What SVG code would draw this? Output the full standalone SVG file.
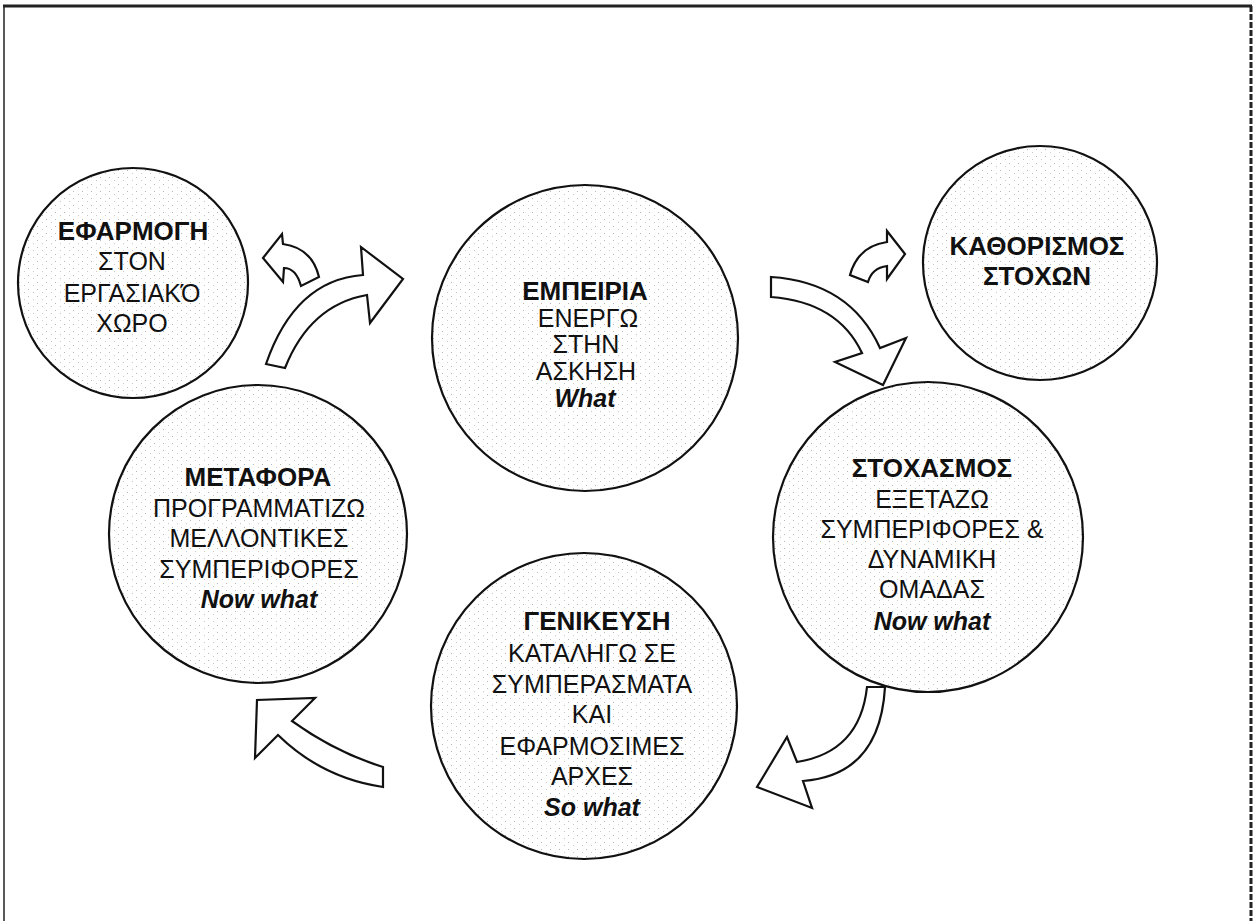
<svg xmlns="http://www.w3.org/2000/svg" width="1257" height="921" viewBox="0 0 1257 921">
<defs>
<pattern id="stip" width="9" height="7" patternUnits="userSpaceOnUse">
<rect width="9" height="7" fill="#fff"/>
<rect x="1" y="2" width="1" height="1" fill="#b5b5b5"/>
<rect x="6" y="5" width="1" height="1" fill="#c8c8c8"/>
</pattern>
<style>
.node{fill:url(#stip);stroke:#111;stroke-width:2.2}
.t{font-family:"Liberation Sans",Arial,sans-serif;font-size:25px;fill:#111;text-anchor:middle}
.b{font-weight:bold;font-size:26px}
.bi{font-weight:bold;font-style:italic}
.arr{fill:#fff;stroke:#111;stroke-width:2.2;stroke-linejoin:miter}
.frame{fill:none;stroke:#222}
</style>
</defs>
<rect width="1257" height="921" fill="#fff"/>
<g id="frame">
<line class="frame" x1="3" y1="6" x2="1252" y2="6" stroke-width="3"/>
<line class="frame" x1="4" y1="6" x2="4" y2="921" stroke-width="1.5"/>
<line class="frame" x1="1251" y1="6" x2="1251" y2="921" stroke-width="3" stroke-dasharray="6 2"/>
</g>
<g id="connectors">
<path class="arr" d="M263 258 L282 234 L283 244 Q312 248 319 277 L301 286 Q296 268 284 268 L283 282 Z"/>
<path class="arr" d="M266 364 Q295 280 363 275 L361 247 L403 279 L370 323 L367 295 Q310 305 285 368 Z"/>
<path class="arr" d="M905 254 L887 231 L887 242 Q858 246 850 275 L868 282 Q872 268 887 266 L887 279 Z"/>
<path class="arr" d="M771 277 Q850 282 880 348 L906 338 L883 385 L835 362 L862 353 Q838 302 771 297 Z"/>
<path class="arr" d="M867 687 Q860 752 797 762 L787 737 L757 787 L812 808 L803 781 Q880 775 885 687 Z"/>
<path class="arr" d="M383 767 Q335 752 292 721 L315 698 L257 700 L255 758 L278 735 Q322 778 383 787 Z"/>
</g>
<g id="node-efarmogi">
<circle class="node" cx="133" cy="283" r="115"/>
<text class="t b" x="133" y="240">ΕΦΑΡΜΟΓΗ</text>
<text class="t" x="132" y="270">ΣΤΟΝ</text>
<text class="t" x="132" y="302">ΕΡΓΑΣΙΑΚΌ</text>
<text class="t" x="132" y="332">ΧΩΡΟ</text>
</g>
<g id="node-empeiria">
<circle class="node" cx="585" cy="338" r="153"/>
<text class="t b" x="585" y="300">ΕΜΠΕΙΡΙΑ</text>
<text class="t" x="588" y="327">ΕΝΕΡΓΩ</text>
<text class="t" x="586" y="353">ΣΤΗΝ</text>
<text class="t" x="586" y="380">ΑΣΚΗΣΗ</text>
<text class="t bi" x="585" y="407">What</text>
</g>
<g id="node-kathorismos">
<circle class="node" cx="1040" cy="263" r="117"/>
<text class="t b" x="1037" y="255">ΚΑΘΟΡΙΣΜΟΣ</text>
<text class="t b" x="1037" y="285">ΣΤΟΧΩΝ</text>
</g>
<g id="node-stoxasmos">
<circle class="node" cx="928" cy="537" r="155"/>
<text class="t b" x="932" y="477">ΣΤΟΧΑΣΜΟΣ</text>
<text class="t" x="932" y="508">ΕΞΕΤΑΖΩ</text>
<text class="t" x="932" y="538">ΣΥΜΠΕΡΙΦΟΡΕΣ &amp;</text>
<text class="t" x="932" y="568">ΔΥΝΑΜΙΚΗ</text>
<text class="t" x="932" y="598">ΟΜΑΔΑΣ</text>
<text class="t bi" x="932" y="630">Now what</text>
</g>
<g id="node-genikeysi">
<circle class="node" cx="584" cy="706" r="153"/>
<text class="t b" x="597" y="630">ΓΕΝΙΚΕΥΣΗ</text>
<text class="t" x="592" y="662">ΚΑΤΑΛΗΓΩ ΣΕ</text>
<text class="t" x="592" y="693">ΣΥΜΠΕΡΑΣΜΑΤΑ</text>
<text class="t" x="592" y="723">ΚΑΙ</text>
<text class="t" x="592" y="755">ΕΦΑΡΜΟΣΙΜΕΣ</text>
<text class="t" x="592" y="785">ΑΡΧΕΣ</text>
<text class="t bi" x="592" y="816">So what</text>
</g>
<g id="node-metafora">
<circle class="node" cx="258" cy="534" r="149"/>
<text class="t b" x="258" y="486">ΜΕΤΑΦΟΡΑ</text>
<text class="t" x="259" y="517">ΠΡΟΓΡΑΜΜΑΤΙΖΩ</text>
<text class="t" x="259" y="547">ΜΕΛΛΟΝΤΙΚΕΣ</text>
<text class="t" x="259" y="578">ΣΥΜΠΕΡΙΦΟΡΕΣ</text>
<text class="t bi" x="259" y="608">Now what</text>
</g>
</svg>
